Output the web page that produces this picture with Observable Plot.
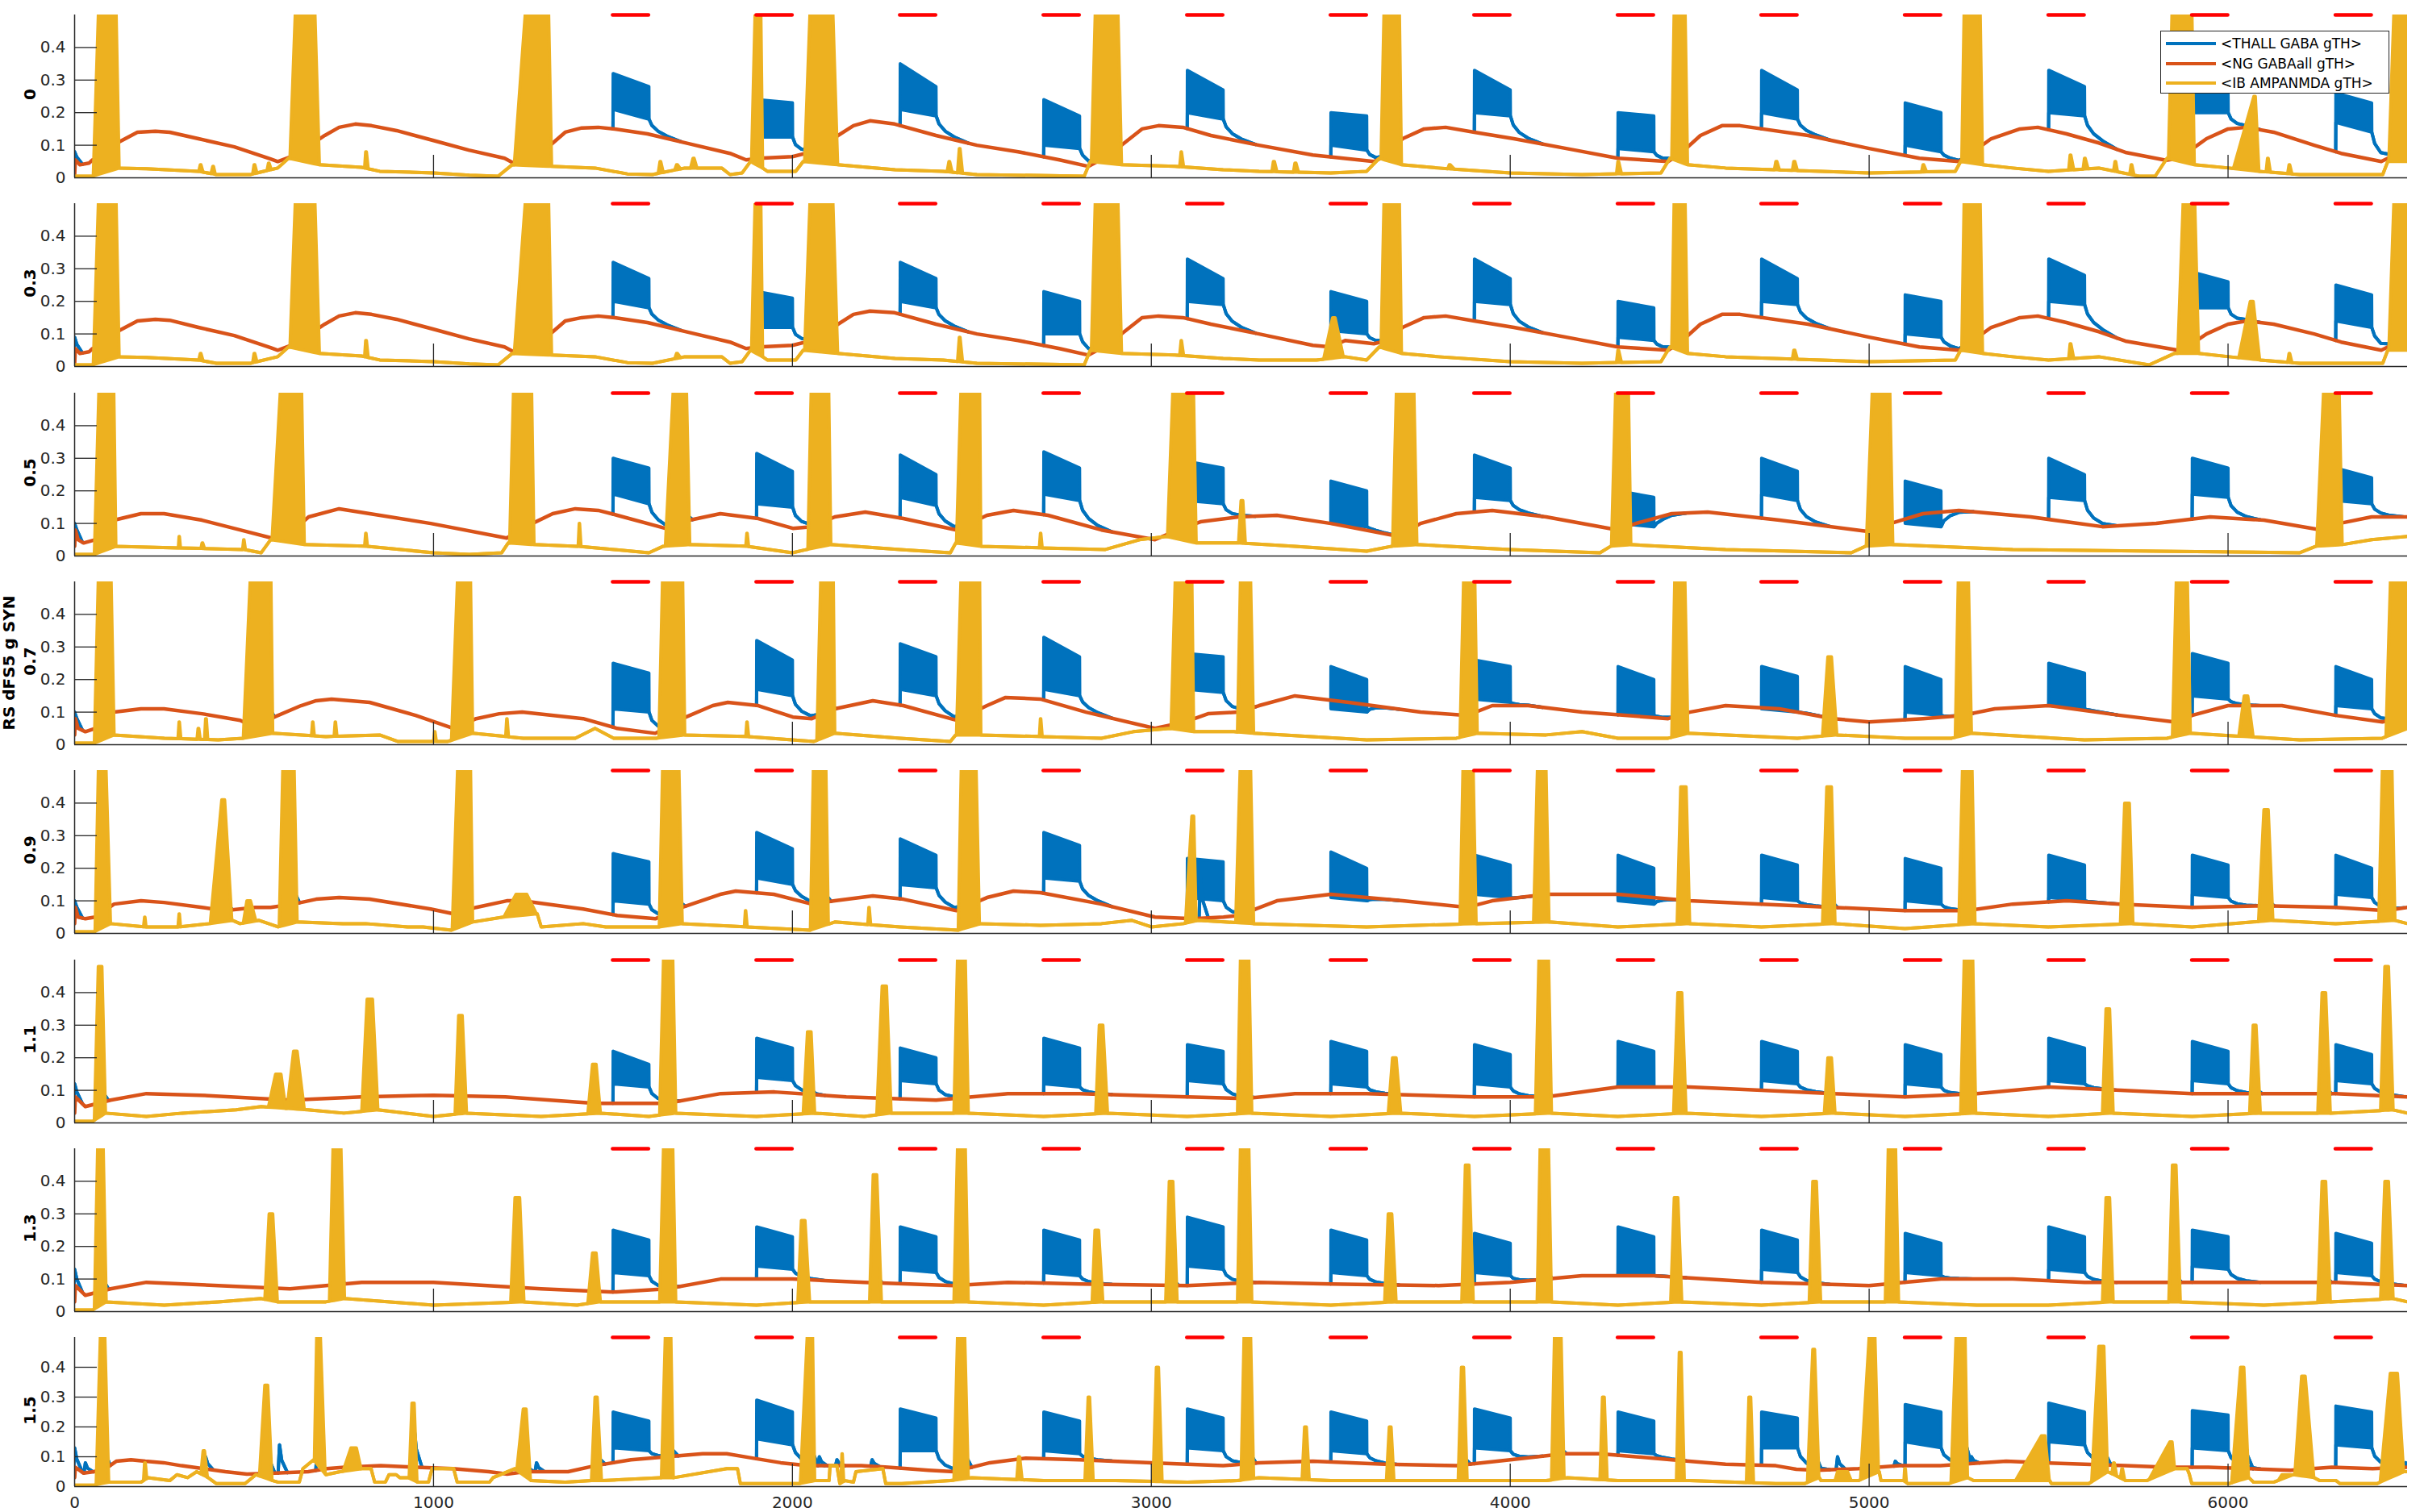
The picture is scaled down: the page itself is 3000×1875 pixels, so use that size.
<!DOCTYPE html>
<html><head><meta charset="utf-8">
<script src="https://cdn.jsdelivr.net/npm/d3@7"></script>
<script src="https://cdn.jsdelivr.net/npm/@observablehq/plot@0.6"></script>
<style>
html,body{margin:0;padding:0;background:#fff;}
#root{position:relative;width:3000px;height:1875px;overflow:hidden;font-family:"DejaVu Sans",sans-serif;}
.pnl{position:absolute;left:0;}
.lab{position:absolute;font-weight:bold;font-size:20px;color:#000;white-space:nowrap;transform:translate(-50%,-50%) rotate(-90deg);}
#legend{position:absolute;left:2678px;top:38px;width:284px;height:78px;border:1px solid #262626;background:#fff;box-sizing:border-box;z-index:5;}
.lrow{position:absolute;left:0;height:24px;width:284px;}
.lline{position:absolute;left:6px;top:10px;width:62px;height:4px;}
.ltxt{position:absolute;left:74px;top:0;font-size:17px;line-height:24px;color:#000;white-space:nowrap;}
</style></head>
<body><div id="root"></div>
<script>
// ---------- shared tables ----------
const seriesNames = ["<THALL GABA gTH>", "<NG GABAall gTH>", "<IB AMPANMDA gTH>"];
const seriesColors = ["#0072BD", "#D95319", "#EDB120"];
const panelLabels = ["0", "0.3", "0.5", "0.7", "0.9", "1.1", "1.3", "1.5"];
const yLabel = "RS dFS5 g SYN";
const stimStart = [1500,1900,2300,2700,3100,3500,3900,4300,4700,5100,5500,5900,6300];
const stimLen = 100;
const yTicks = [0, 0.1, 0.2, 0.3, 0.4];
const xTicks = [0, 1000, 2000, 3000, 4000, 5000, 6000];
const decayDt = [0, 8, 25, 50, 90];
const decayFrac = [1, 0.6, 0.3, 0.12, 0];

// ---------- panel 1 (0) ----------
const ng0 = [[0,0.01],[2,0.055],[15,0.04],[40,0.045],[50,0.055],[60,0.05],[90,0.08],[124,0.11],[175,0.14],[225,0.143],[265,0.14],[345,0.12],[445,0.095],[546,0.058],[566,0.05],[616,0.07],[656,0.10],[697,0.13],[737,0.155],[782,0.165],[827,0.16],[897,0.145],[998,0.115],[1098,0.085],[1198,0.06],[1223,0.045],[1299,0.075],[1367,0.14],[1413,0.153],[1459,0.155],[1505,0.15],[1596,0.135],[1711,0.105],[1826,0.075],[1871,0.055],[1907,0.06],[2000,0.065],[2055,0.08],[2113,0.12],[2170,0.16],[2216,0.175],[2285,0.165],[2400,0.13],[2514,0.1],[2629,0.08],[2744,0.055],[2825,0.035],[2858,0.055],[2917,0.1],[2974,0.15],[3020,0.16],[3088,0.155],[3166,0.13],[3300,0.1],[3450,0.07],[3620,0.05],[3660,0.07],[3700,0.12],[3760,0.15],[3820,0.155],[3900,0.14],[4010,0.12],[4180,0.085],[4300,0.06],[4440,0.05],[4480,0.08],[4530,0.13],[4590,0.16],[4640,0.16],[4830,0.13],[5000,0.09],[5140,0.06],[5250,0.05],[5290,0.08],[5340,0.12],[5420,0.15],[5470,0.155],[5550,0.135],[5640,0.107],[5714,0.078],[5827,0.054],[5865,0.06],[5902,0.09],[5940,0.12],[6000,0.15],[6052,0.155],[6127,0.14],[6240,0.1],[6315,0.075],[6427,0.05],[6464,0.07],[6500,0.09]];
const ibBase0 = [[0,0.005],[50,0.005],[124,0.03],[200,0.028],[345,0.02],[395,0.01],[490,0.01],[566,0.03],[596,0.06],[682,0.04],[800,0.032],[850,0.02],[1000,0.015],[1100,0.008],[1180,0.005],[1219,0.04],[1329,0.035],[1450,0.03],[1540,0.012],[1610,0.01],[1700,0.03],[1803,0.03],[1826,0.01],[1860,0.015],[1883,0.05],[1917,0.03],[1930,0.02],[2009,0.02],[2030,0.05],[2126,0.04],[2286,0.025],[2420,0.02],[2514,0.01],[2813,0.005],[2830,0.05],[2917,0.04],[3066,0.035],[3200,0.025],[3300,0.02],[3500,0.015],[3600,0.02],[3635,0.06],[3697,0.04],[3800,0.03],[4000,0.015],[4200,0.01],[4420,0.015],[4445,0.06],[4494,0.04],[4600,0.03],[5000,0.015],[5240,0.02],[5255,0.05],[5316,0.04],[5400,0.03],[5500,0.02],[5640,0.03],[5752,0.005],[5797,0.005],[5830,0.06],[5906,0.04],[6003,0.03],[6086,0.02],[6200,0.01],[6431,0.01],[6445,0.05],[6500,0.05]];
const ibBurst0 = [[52,69,114,124,0.6],[346,350,352,358,0.04],[380,385,387,392,0.035],[496,500,502,508,0.04],[536,540,542,548,0.045],[600,618,667,682,0.6],[808,811,813,818,0.08],[1225,1262,1319,1329,0.6],[1626,1631,1633,1640,0.05],[1672,1677,1680,1688,0.04],[1716,1723,1726,1734,0.06],[1886,1898,1911,1917,0.6],[2034,2052,2110,2126,0.6],[2431,2436,2438,2445,0.05],[2460,2465,2467,2474,0.09],[2833,2846,2905,2917,0.6],[3079,3083,3084,3090,0.08],[3336,3340,3343,3350,0.05],[3396,3400,3403,3410,0.045],[3640,3650,3690,3697,0.6],[3826,3830,3833,3844,0.04],[4296,4300,4302,4310,0.05],[4450,4458,4486,4494,0.6],[4736,4740,4743,4750,0.05],[4786,4790,4793,4800,0.05],[5146,5150,5152,5160,0.04],[5258,5266,5308,5316,0.6],[5556,5560,5562,5570,0.07],[5596,5600,5602,5610,0.06],[5681,5685,5687,5692,0.05],[5726,5730,5732,5738,0.04],[5834,5846,5898,5906,0.6],[6015,6072,6076,6086,0.25],[6106,6110,6112,6118,0.06],[6166,6170,6172,6178,0.04],[6448,6465,6500,6510,0.6]];
const th0 = [[0.32,0.28,0.21,0.18],[0.24,0.23,0.125,0.125],[0.35,0.28,0.21,0.19],[0.24,0.19,0.10,0.09],[0.33,0.27,0.2,0.18],[0.2,0.19,0.1,0.085],[0.33,0.27,0.2,0.19],[0.2,0.19,0.09,0.08],[0.33,0.27,0.2,0.18],[0.23,0.2,0.1,0.08],[0.33,0.28,0.2,0.19],[0.28,0.26,0.2,0.2],[0.26,0.23,0.17,0.14]];
const ths0 = [[0,0.08]];

// ---------- panel 2 (0.3) ----------
const ng1 = [[0,0.01],[2,0.055],[15,0.04],[40,0.045],[50,0.055],[60,0.05],[90,0.08],[124,0.11],[175,0.14],[225,0.145],[265,0.142],[345,0.12],[445,0.095],[546,0.058],[566,0.05],[616,0.07],[656,0.10],[697,0.13],[737,0.155],[782,0.165],[827,0.16],[897,0.145],[998,0.115],[1098,0.085],[1198,0.06],[1223,0.045],[1299,0.075],[1367,0.14],[1413,0.15],[1459,0.155],[1505,0.15],[1596,0.135],[1711,0.105],[1826,0.075],[1871,0.055],[1907,0.06],[2000,0.065],[2055,0.08],[2113,0.12],[2170,0.16],[2216,0.17],[2285,0.165],[2400,0.13],[2514,0.1],[2629,0.08],[2744,0.055],[2825,0.035],[2858,0.055],[2917,0.1],[2974,0.15],[3020,0.155],[3088,0.15],[3166,0.13],[3300,0.1],[3450,0.065],[3500,0.06],[3540,0.08],[3620,0.07],[3660,0.08],[3700,0.12],[3760,0.15],[3820,0.155],[3900,0.14],[4010,0.12],[4180,0.085],[4300,0.06],[4440,0.05],[4480,0.08],[4530,0.13],[4590,0.16],[4640,0.16],[4830,0.13],[5000,0.09],[5140,0.06],[5250,0.05],[5290,0.08],[5340,0.12],[5420,0.15],[5470,0.155],[5550,0.135],[5640,0.107],[5714,0.078],[5860,0.05],[5900,0.07],[5940,0.1],[6000,0.13],[6052,0.14],[6127,0.13],[6240,0.1],[6315,0.075],[6427,0.05],[6464,0.07],[6500,0.09]];
const ibBase1 = [[0,0.005],[50,0.005],[124,0.03],[200,0.028],[345,0.02],[395,0.01],[490,0.01],[566,0.03],[596,0.06],[682,0.04],[800,0.032],[850,0.02],[1000,0.015],[1100,0.008],[1180,0.005],[1219,0.04],[1329,0.035],[1450,0.03],[1540,0.012],[1610,0.01],[1700,0.03],[1803,0.03],[1826,0.01],[1860,0.015],[1883,0.05],[1917,0.03],[1930,0.02],[2009,0.02],[2030,0.05],[2126,0.04],[2286,0.025],[2420,0.02],[2514,0.01],[2813,0.005],[2830,0.05],[2917,0.04],[3066,0.035],[3200,0.025],[3300,0.02],[3460,0.02],[3540,0.03],[3600,0.02],[3635,0.06],[3697,0.04],[3800,0.03],[4000,0.015],[4200,0.01],[4420,0.015],[4445,0.06],[4494,0.04],[4600,0.03],[5000,0.015],[5240,0.02],[5255,0.05],[5316,0.04],[5400,0.03],[5500,0.02],[5640,0.03],[5780,0.005],[5850,0.04],[5918,0.04],[6003,0.03],[6090,0.02],[6200,0.01],[6431,0.01],[6445,0.05],[6500,0.05]];
const ibBurst1 = [[52,69,114,124,0.6],[346,350,352,358,0.04],[496,500,502,508,0.04],[600,618,667,682,0.6],[808,811,813,818,0.08],[1225,1262,1319,1329,0.6],[1672,1677,1680,1688,0.04],[1886,1898,1911,1917,0.6],[2034,2052,2110,2126,0.6],[2460,2465,2467,2474,0.09],[2833,2846,2905,2917,0.6],[3079,3083,3084,3090,0.08],[3480,3505,3512,3535,0.15],[3640,3650,3690,3697,0.6],[4296,4300,4302,4310,0.05],[4450,4458,4486,4494,0.6],[4786,4790,4793,4800,0.05],[5258,5266,5308,5316,0.6],[5556,5560,5562,5570,0.07],[5860,5878,5905,5918,0.6],[6030,6062,6070,6088,0.2],[6166,6170,6172,6178,0.04],[6448,6465,6500,6510,0.6]];
const th1 = [[0.32,0.27,0.2,0.18],[0.23,0.21,0.12,0.12],[0.32,0.27,0.2,0.18],[0.23,0.2,0.1,0.1],[0.33,0.27,0.2,0.19],[0.23,0.2,0.11,0.1],[0.33,0.27,0.2,0.19],[0.2,0.18,0.09,0.08],[0.33,0.27,0.2,0.19],[0.22,0.2,0.1,0.09],[0.33,0.28,0.2,0.19],[0.29,0.26,0.18,0.18],[0.25,0.22,0.14,0.12]];
const ths1 = [[0,0.09]];

// ---------- panel 3 (0.5) ----------
const ng2 = [[0,0.03],[2,0.08],[10,0.05],[25,0.04],[57,0.05],[79,0.09],[110,0.11],[185,0.13],[249,0.13],[355,0.11],[461,0.08],[567,0.05],[610,0.08],[652,0.12],[737,0.145],[822,0.13],[992,0.1],[1204,0.055],[1257,0.09],[1332,0.13],[1395,0.145],[1459,0.14],[1512,0.125],[1629,0.09],[1661,0.08],[1714,0.11],[1799,0.13],[1905,0.115],[2001,0.085],[2054,0.09],[2118,0.12],[2203,0.135],[2309,0.115],[2457,0.08],[2542,0.125],[2616,0.14],[2712,0.125],[2861,0.08],[3010,0.05],[3074,0.08],[3137,0.105],[3243,0.12],[3350,0.125],[3500,0.1],[3690,0.06],[3750,0.1],[3850,0.13],[3950,0.14],[4100,0.12],[4300,0.08],[4350,0.1],[4450,0.13],[4550,0.135],[4750,0.11],[5000,0.075],[5060,0.1],[5150,0.13],[5250,0.14],[5450,0.12],[5650,0.09],[5800,0.1],[5950,0.12],[6100,0.11],[6260,0.08],[6310,0.1],[6400,0.12],[6500,0.12]];
const ibBase2 = [[0,0.005],[55,0.005],[115,0.03],[291,0.025],[471,0.02],[520,0.01],[546,0.05],[640,0.035],[811,0.03],[1000,0.01],[1100,0.005],[1190,0.01],[1208,0.04],[1280,0.035],[1400,0.03],[1600,0.01],[1640,0.03],[1714,0.035],[1873,0.03],[2000,0.01],[2040,0.02],[2107,0.035],[2300,0.02],[2440,0.01],[2455,0.04],[2525,0.03],[2691,0.025],[2872,0.02],[2967,0.05],[3042,0.06],[3125,0.04],[3243,0.04],[3400,0.03],[3600,0.015],[3670,0.03],[3740,0.035],[4000,0.02],[4250,0.01],[4280,0.03],[4336,0.035],[4600,0.02],[4950,0.01],[4990,0.03],[5066,0.035],[5400,0.02],[5800,0.015],[6200,0.01],[6245,0.03],[6318,0.035],[6400,0.05],[6500,0.06]];
const ibBurst2 = [[55,70,108,115,0.6],[289,291,292,295,0.06],[352,355,357,362,0.04],[468,471,472,476,0.05],[550,578,631,640,0.6],[808,811,812,816,0.07],[1212,1225,1272,1280,0.6],[1403,1406,1407,1411,0.1],[1646,1672,1703,1714,0.6],[1870,1873,1874,1878,0.07],[2043,2054,2100,2107,0.6],[2457,2472,2521,2525,0.6],[2688,2691,2692,2696,0.07],[3045,3063,3116,3125,0.6],[3243,3250,3255,3262,0.17],[3672,3685,3730,3740,0.6],[4282,4296,4328,4336,0.6],[4992,5012,5056,5066,0.6],[6247,6270,6308,6318,0.6]];
const th2 = [[0.3,0.27,0.19,0.16],[0.315,0.26,0.16,0.15],[0.31,0.25,0.18,0.155],[0.32,0.27,0.19,0.17],[0.29,0.27,0.17,0.16],[0.23,0.2,0.1,0.09],[0.31,0.27,0.18,0.17],[0.2,0.18,0.1,0.09],[0.3,0.26,0.19,0.17],[0.23,0.2,0.1,0.09],[0.3,0.25,0.18,0.17],[0.3,0.27,0.19,0.18],[0.27,0.24,0.17,0.16]];
const ths2 = [[0,0.1],[609,0.13],[1257,0.11],[1700,0.15],[2081,0.13],[2500,0.13],[3084,0.13]];

// ---------- panel 4 (0.7) ----------
const ng3 = [[0,0.03],[2,0.08],[10,0.05],[30,0.04],[57,0.05],[110,0.1],[185,0.11],[249,0.11],[355,0.095],[461,0.075],[490,0.06],[546,0.08],[631,0.12],[673,0.135],[716,0.14],[822,0.13],[950,0.09],[1056,0.05],[1119,0.08],[1183,0.095],[1247,0.1],[1417,0.08],[1512,0.05],[1618,0.035],[1693,0.08],[1778,0.12],[1820,0.13],[1905,0.12],[2001,0.085],[2054,0.08],[2118,0.11],[2224,0.135],[2309,0.12],[2457,0.075],[2542,0.12],[2594,0.145],[2691,0.14],[2818,0.1],[3010,0.05],[3095,0.07],[3158,0.095],[3243,0.1],[3300,0.12],[3400,0.15],[3550,0.13],[3750,0.1],[3880,0.09],[3950,0.12],[4050,0.12],[4200,0.1],[4440,0.08],[4500,0.1],[4600,0.12],[4750,0.11],[4900,0.08],[5000,0.07],[5150,0.08],[5260,0.09],[5350,0.11],[5500,0.12],[5700,0.09],[5850,0.07],[5900,0.09],[6000,0.12],[6150,0.12],[6300,0.09],[6430,0.07],[6470,0.08],[6500,0.1]];
const ibBase3 = [[0,0.005],[55,0.005],[110,0.03],[250,0.02],[400,0.015],[470,0.02],[552,0.035],[700,0.025],[850,0.03],[900,0.01],[1040,0.01],[1109,0.035],[1250,0.02],[1395,0.02],[1450,0.05],[1502,0.02],[1620,0.02],[1700,0.03],[1873,0.025],[2060,0.01],[2118,0.035],[2300,0.02],[2440,0.01],[2455,0.03],[2525,0.03],[2691,0.025],[2861,0.02],[2950,0.04],[3052,0.05],[3118,0.04],[3230,0.04],[3285,0.035],[3600,0.015],[3850,0.02],[3908,0.035],[4100,0.03],[4200,0.04],[4300,0.02],[4440,0.02],[4495,0.035],[4800,0.02],[4910,0.03],[5100,0.02],[5230,0.02],[5285,0.035],[5600,0.015],[5830,0.02],[5895,0.035],[6200,0.015],[6430,0.02],[6500,0.05]];
const ibBurst3 = [[55,68,100,110,0.6],[288,291,292,296,0.07],[341,344,346,350,0.05],[362,365,367,371,0.08],[470,493,546,552,0.6],[660,663,664,668,0.07],[723,726,727,731,0.07],[1000,1003,1004,1008,0.04],[1050,1070,1102,1109,0.6],[1201,1204,1205,1209,0.08],[1628,1640,1693,1700,0.6],[1870,1873,1874,1878,0.07],[2068,2081,2113,2118,0.6],[2457,2472,2521,2525,0.6],[2688,2691,2692,2696,0.08],[3055,3069,3112,3118,0.6],[3240,3250,3275,3285,0.6],[3860,3872,3900,3908,0.6],[4450,4460,4485,4495,0.6],[4870,4885,4895,4910,0.27],[5240,5250,5275,5285,0.6],[5845,5858,5885,5895,0.6],[6030,6045,6055,6070,0.15],[6440,6455,6500,6510,0.6]];
const th3 = [[0.25,0.22,0.11,0.1],[0.32,0.26,0.17,0.15],[0.31,0.27,0.17,0.15],[0.33,0.27,0.17,0.15],[0.28,0.27,0.17,0.16],[0.24,0.2,0.11,0.1],[0.26,0.24,0.14,0.13],[0.24,0.2,0.1,0.09],[0.24,0.21,0.11,0.1],[0.24,0.2,0.1,0.09],[0.25,0.22,0.12,0.11],[0.28,0.25,0.15,0.14],[0.24,0.2,0.12,0.11]];
const ths3 = [[0,0.1],[83,0.14],[535,0.16],[1081,0.14],[1650,0.14],[1678,0.14],[2100,0.13],[2500,0.13],[3084,0.13],[3260,0.12],[3880,0.12],[4465,0.12],[5256,0.12],[5867,0.13],[6460,0.12]];

// ---------- panel 5 (0.9) ----------
const ng4 = [[0,0.03],[2,0.08],[10,0.05],[30,0.045],[57,0.05],[110,0.09],[185,0.1],[249,0.095],[355,0.08],[418,0.07],[503,0.08],[546,0.08],[610,0.09],[673,0.105],[737,0.11],[822,0.105],[992,0.075],[1056,0.06],[1119,0.08],[1204,0.1],[1247,0.1],[1417,0.075],[1512,0.055],[1618,0.045],[1693,0.08],[1799,0.12],[1842,0.13],[1948,0.12],[2054,0.09],[2118,0.1],[2224,0.115],[2309,0.105],[2457,0.07],[2542,0.11],[2616,0.13],[2691,0.125],[2861,0.09],[3010,0.05],[3116,0.045],[3201,0.05],[3243,0.055],[3350,0.1],[3500,0.12],[3700,0.1],[3880,0.08],[3950,0.1],[4100,0.12],[4300,0.12],[4500,0.1],[4700,0.09],[4900,0.08],[5100,0.07],[5273,0.07],[5400,0.09],[5550,0.1],[5700,0.09],[5900,0.08],[6100,0.085],[6300,0.08],[6440,0.07],[6500,0.08]];
const ibBase4 = [[0,0.005],[55,0.005],[100,0.03],[195,0.02],[291,0.02],[376,0.03],[440,0.04],[461,0.03],[514,0.04],[567,0.02],[620,0.035],[748,0.03],[811,0.03],[928,0.02],[971,0.02],[1050,0.01],[1109,0.035],[1194,0.05],[1289,0.06],[1300,0.02],[1417,0.03],[1480,0.02],[1629,0.02],[1693,0.03],[1869,0.02],[2050,0.01],[2118,0.035],[2300,0.02],[2462,0.01],[2525,0.03],[2691,0.025],[2861,0.03],[2946,0.04],[3000,0.02],[3090,0.03],[3130,0.04],[3285,0.03],[3600,0.02],[3905,0.03],[4108,0.035],[4300,0.02],[4500,0.03],[4700,0.02],[4905,0.03],[5100,0.015],[5295,0.03],[5500,0.02],[5735,0.03],[5900,0.02],[6125,0.04],[6300,0.03],[6465,0.04],[6500,0.03]];
const ibBurst4 = [[57,68,85,100,0.6],[192,195,196,199,0.05],[288,291,292,295,0.06],[378,410,418,438,0.41],[470,480,490,505,0.1],[570,582,610,620,0.6],[1052,1070,1102,1109,0.6],[1196,1230,1260,1287,0.12],[1629,1640,1682,1693,0.6],[1866,1869,1870,1874,0.07],[2050,2060,2092,2100,0.6],[2210,2213,2214,2218,0.08],[2462,2472,2510,2521,0.6],[3095,3113,3118,3125,0.36],[3235,3250,3275,3285,0.6],[3860,3870,3895,3905,0.6],[4065,4078,4098,4108,0.6],[4465,4475,4490,4500,0.45],[4870,4882,4895,4905,0.45],[5250,5262,5285,5295,0.6],[5700,5712,5725,5735,0.4],[6085,6100,6112,6125,0.38],[6420,6432,6455,6465,0.6]];
const th4 = [[0.245,0.22,0.1,0.09],[0.31,0.26,0.17,0.15],[0.29,0.24,0.15,0.14],[0.31,0.27,0.17,0.16],[0.23,0.22,0.11,0.1],[0.25,0.2,0.11,0.1],[0.24,0.21,0.12,0.11],[0.24,0.2,0.1,0.09],[0.24,0.21,0.11,0.1],[0.23,0.2,0.1,0.09],[0.24,0.21,0.11,0.1],[0.24,0.21,0.12,0.11],[0.24,0.2,0.12,0.11]];
const ths4 = [[0,0.1],[79,0.17],[418,0.12],[605,0.18],[1077,0.17],[1650,0.13],[1680,0.12],[2086,0.15],[2496,0.14],[3137,0.17],[3260,0.15],[3880,0.15],[4086,0.13],[4890,0.12],[5273,0.14],[6107,0.12],[6440,0.14]];

// ---------- panel 6 (1.1) ----------
const ng5 = [[0,0.03],[2,0.08],[30,0.05],[100,0.07],[200,0.09],[350,0.085],[600,0.07],[800,0.08],[1000,0.085],[1200,0.08],[1450,0.06],[1650,0.06],[1800,0.09],[1950,0.095],[2150,0.08],[2400,0.07],[2600,0.09],[2800,0.09],[3100,0.08],[3260,0.075],[3400,0.09],[3600,0.09],[3900,0.08],[4100,0.08],[4300,0.11],[4500,0.11],[4700,0.1],[4900,0.09],[5100,0.08],[5300,0.09],[5500,0.11],[5700,0.1],[5900,0.09],[6100,0.09],[6300,0.09],[6500,0.08]];
const ibBase5 = [[0,0.005],[50,0.005],[86,0.03],[200,0.02],[300,0.03],[450,0.04],[520,0.05],[650,0.04],[750,0.03],[845,0.04],[1000,0.02],[1092,0.03],[1300,0.02],[1465,0.03],[1600,0.02],[1675,0.03],[1900,0.02],[2062,0.03],[2200,0.02],[2275,0.03],[2490,0.03],[2700,0.02],[2878,0.03],[3100,0.02],[3280,0.03],[3500,0.02],[3695,0.03],[3900,0.02],[4115,0.03],[4300,0.02],[4490,0.03],[4700,0.02],[4905,0.03],[5100,0.02],[5297,0.03],[5500,0.02],[5680,0.03],[5900,0.02],[6090,0.03],[6285,0.03],[6460,0.04],[6500,0.03]];
const ibBurst5 = [[55,66,76,86,0.48],[540,560,575,588,0.15],[592,610,620,640,0.22],[800,815,830,845,0.38],[1060,1070,1080,1092,0.33],[1430,1443,1453,1465,0.18],[1630,1643,1665,1675,0.6],[2030,2042,2052,2062,0.28],[2235,2250,2262,2275,0.42],[2450,2462,2480,2490,0.6],[2845,2855,2865,2878,0.3],[3240,3250,3270,3280,0.6],[3660,3672,3682,3695,0.2],[4070,4082,4105,4115,0.6],[4455,4467,4478,4490,0.4],[4875,4885,4895,4905,0.2],[5255,5267,5287,5297,0.6],[5650,5660,5670,5680,0.35],[6060,6070,6078,6090,0.3],[6250,6262,6272,6285,0.4],[6425,6437,6447,6460,0.48]];
const th5 = [[0.22,0.18,0.12,0.11],[0.26,0.23,0.14,0.13],[0.23,0.2,0.13,0.12],[0.26,0.23,0.12,0.11],[0.24,0.22,0.13,0.12],[0.25,0.22,0.12,0.11],[0.24,0.21,0.12,0.11],[0.25,0.22,0.12,0.11],[0.25,0.22,0.13,0.12],[0.24,0.21,0.12,0.11],[0.26,0.23,0.13,0.12],[0.25,0.22,0.13,0.12],[0.24,0.21,0.13,0.12]];
const ths5 = [[0,0.12],[73,0.13],[1652,0.15],[2047,0.12],[2469,0.14],[3260,0.14],[4095,0.14],[4473,0.12],[5277,0.13],[6073,0.12],[6267,0.12],[6440,0.13]];

// ---------- panel 7 (1.3) ----------
const ng6 = [[0,0.03],[2,0.08],[30,0.05],[100,0.07],[200,0.09],[400,0.08],[600,0.07],[800,0.09],[1000,0.09],[1300,0.07],[1500,0.06],[1650,0.07],[1800,0.1],[2000,0.1],[2200,0.09],[2450,0.08],[2600,0.09],[2800,0.085],[3100,0.08],[3300,0.09],[3500,0.085],[3800,0.08],[4000,0.09],[4200,0.11],[4400,0.11],[4700,0.09],[5000,0.08],[5200,0.1],[5400,0.1],[5600,0.09],[5800,0.09],[6000,0.09],[6300,0.09],[6500,0.08]];
const ibBase6 = [[0,0.005],[50,0.005],[88,0.03],[250,0.02],[400,0.03],[520,0.04],[565,0.03],[700,0.03],[752,0.04],[1000,0.02],[1252,0.03],[1400,0.02],[1465,0.03],[1675,0.03],[1900,0.02],[2048,0.03],[2248,0.03],[2490,0.03],[2700,0.02],[2865,0.03],[3072,0.03],[3280,0.03],[3500,0.02],[3682,0.03],[3897,0.03],[4115,0.03],[4300,0.02],[4478,0.03],[4700,0.02],[4865,0.03],[5082,0.03],[5300,0.02],[5500,0.02],[5680,0.03],[5867,0.03],[6100,0.02],[6285,0.03],[6460,0.04],[6500,0.03]];
const ibBurst6 = [[55,66,78,88,0.6],[530,542,552,565,0.3],[710,722,740,752,0.6],[1215,1227,1240,1252,0.35],[1430,1443,1453,1465,0.18],[1630,1643,1665,1675,0.6],[2015,2025,2035,2048,0.28],[2215,2225,2235,2248,0.42],[2450,2462,2480,2490,0.6],[2835,2843,2853,2865,0.25],[3040,3050,3060,3072,0.4],[3240,3250,3270,3280,0.6],[3650,3660,3670,3682,0.3],[3865,3875,3885,3897,0.45],[4075,4085,4105,4115,0.6],[4447,4457,4467,4478,0.35],[4833,4843,4853,4865,0.4],[5045,5055,5072,5082,0.6],[5650,5660,5670,5680,0.35],[5835,5845,5855,5867,0.45],[6250,6262,6272,6285,0.4],[6425,6437,6447,6460,0.4]];
const th6 = [[0.25,0.22,0.12,0.11],[0.26,0.23,0.14,0.13],[0.26,0.23,0.13,0.12],[0.25,0.22,0.12,0.11],[0.29,0.26,0.14,0.13],[0.25,0.22,0.12,0.11],[0.24,0.21,0.12,0.11],[0.26,0.23,0.12,0.11],[0.25,0.22,0.13,0.12],[0.24,0.21,0.12,0.11],[0.26,0.23,0.13,0.12],[0.25,0.23,0.14,0.13],[0.24,0.21,0.12,0.11]];
const ths6 = [[0,0.13],[73,0.14],[731,0.15],[1652,0.16],[2228,0.14],[2469,0.15],[3054,0.12],[3260,0.15],[3880,0.13],[4095,0.15],[5062,0.15],[5849,0.13],[6267,0.12],[6440,0.13]];

// ---------- panel 8 (1.5) ----------
const ng7 = [[0,0.03],[2,0.065],[25,0.045],[54,0.05],[86,0.06],[116,0.085],[157,0.09],[197,0.085],[248,0.08],[298,0.07],[359,0.06],[420,0.05],[480,0.042],[560,0.045],[651,0.05],[702,0.06],[752,0.065],[853,0.07],[953,0.065],[1054,0.06],[1154,0.05],[1205,0.042],[1255,0.05],[1375,0.05],[1450,0.07],[1550,0.09],[1650,0.1],[1750,0.11],[1817,0.11],[1892,0.095],[1967,0.08],[2042,0.07],[2117,0.07],[2192,0.07],[2267,0.065],[2379,0.055],[2450,0.05],[2550,0.08],[2650,0.095],[2800,0.09],[3000,0.08],[3200,0.07],[3300,0.08],[3450,0.085],[3650,0.075],[3850,0.07],[4000,0.09],[4150,0.11],[4250,0.11],[4450,0.09],[4600,0.075],[4740,0.07],[4797,0.058],[4855,0.055],[4970,0.06],[5085,0.07],[5199,0.07],[5314,0.08],[5382,0.085],[5486,0.08],[5600,0.075],[5715,0.07],[5830,0.065],[5945,0.065],[6059,0.06],[6174,0.055],[6289,0.065],[6403,0.06],[6500,0.065]];
const ibBase7 = [[0,0.005],[54,0.005],[95,0.015],[185,0.015],[205,0.03],[265,0.02],[285,0.04],[315,0.03],[340,0.05],[372,0.03],[395,0.01],[475,0.01],[505,0.04],[552,0.02],[566,0.015],[626,0.015],[636,0.06],[666,0.09],[700,0.04],[740,0.05],[800,0.06],[826,0.06],[836,0.015],[866,0.015],[876,0.04],[896,0.04],[906,0.03],[930,0.03],[955,0.015],[986,0.015],[996,0.06],[1056,0.06],[1066,0.015],[1156,0.015],[1166,0.03],[1226,0.06],[1272,0.02],[1367,0.015],[1440,0.02],[1470,0.02],[1630,0.03],[1670,0.03],[1817,0.06],[1847,0.06],[1855,0.01],[2019,0.01],[2062,0.02],[2102,0.02],[2105,0.07],[2124,0.07],[2132,0.01],[2147,0.02],[2170,0.015],[2177,0.05],[2252,0.06],[2260,0.01],[2305,0.01],[2440,0.02],[2500,0.03],[2700,0.02],[2900,0.02],[3100,0.015],[3240,0.02],[3300,0.03],[3500,0.02],[3700,0.02],[3900,0.02],[4100,0.02],[4160,0.03],[4300,0.02],[4500,0.02],[4740,0.01],[4820,0.01],[4861,0.03],[4866,0.02],[4901,0.02],[4950,0.02],[4970,0.02],[5028,0.05],[5033,0.02],[5096,0.02],[5108,0.01],[5222,0.01],[5275,0.03],[5291,0.02],[5405,0.02],[5503,0.02],[5508,0.01],[5612,0.01],[5665,0.05],[5715,0.02],[5773,0.02],[5852,0.06],[5888,0.06],[5899,0.01],[6002,0.01],[6058,0.03],[6071,0.015],[6128,0.015],[6182,0.04],[6240,0.03],[6255,0.02],[6301,0.02],[6312,0.01],[6415,0.01],[6490,0.05],[6500,0.05]];
const ibBurst7 = [[60,74,82,95,0.6],[192,195,197,201,0.08],[352,358,362,370,0.12],[515,530,538,550,0.34],[668,676,682,698,0.6],[748,770,785,798,0.13],[932,940,946,954,0.28],[1232,1250,1258,1270,0.26],[1440,1450,1456,1468,0.3],[1635,1648,1660,1668,0.6],[2022,2045,2055,2062,0.6],[2135,2138,2139,2143,0.11],[2450,2462,2478,2490,0.6],[2625,2630,2633,2640,0.1],[2815,2824,2828,2838,0.3],[3005,3014,3020,3030,0.4],[3250,3260,3275,3285,0.6],[3420,3427,3432,3440,0.2],[3655,3663,3668,3676,0.2],[3855,3864,3870,3880,0.4],[4115,4125,4140,4150,0.6],[4250,4257,4262,4270,0.3],[4463,4471,4476,4485,0.45],[4658,4665,4670,4678,0.3],[4828,4843,4848,4860,0.46],[4905,4912,4940,4950,0.05],[4976,5005,5014,5026,0.6],[5097,5099,5101,5104,0.06],[5228,5245,5266,5274,0.6],[5408,5480,5490,5502,0.17],[5620,5640,5654,5664,0.47],[5676,5681,5683,5690,0.08],[5700,5704,5706,5712,0.06],[5780,5838,5844,5851,0.15],[5874,5880,5886,5892,0.06],[6010,6035,6044,6057,0.4],[6140,6150,6175,6181,0.04],[6186,6205,6215,6239,0.37],[6424,6452,6472,6489,0.38]];
const th7 = [[0.25,0.22,0.13,0.12],[0.29,0.25,0.16,0.14],[0.26,0.23,0.12,0.12],[0.25,0.22,0.12,0.11],[0.26,0.23,0.13,0.12],[0.25,0.22,0.12,0.11],[0.26,0.23,0.13,0.12],[0.25,0.22,0.12,0.11],[0.25,0.23,0.13,0.13],[0.275,0.25,0.15,0.13],[0.28,0.25,0.15,0.14],[0.255,0.24,0.13,0.12],[0.27,0.25,0.14,0.13]];
const ths7 = [[0,0.13],[30,0.08],[77,0.2],[365,0.1],[536,0.15],[571,0.14],[676,0.13],[946,0.2],[1257,0.08],[1287,0.08],[1456,0.12],[1660,0.15],[2049,0.185],[2075,0.1],[2124,0.09],[2222,0.09],[2478,0.15],[3270,0.15],[3868,0.12],[4135,0.15],[4846,0.16],[4912,0.1],[5004,0.18],[5073,0.085],[5262,0.24],[5285,0.1],[5652,0.16],[6048,0.16],[6455,0.13],[6495,0.08]];

// ---------- layout ----------
const panelTop = [18, 252, 487, 721, 955, 1190, 1424, 1658];
const panelBottom = [220, 454, 689, 923, 1157, 1392, 1626, 1843];
const plotLeft = 92, plotRight = 2984;

const NG = [ng0, ng1, ng2, ng3, ng4, ng5, ng6, ng7];
const IBB = [ibBase0, ibBase1, ibBase2, ibBase3, ibBase4, ibBase5, ibBase6, ibBase7];
const IBU = [ibBurst0, ibBurst1, ibBurst2, ibBurst3, ibBurst4, ibBurst5, ibBurst6, ibBurst7];
const TH = [th0, th1, th2, th3, th4, th5, th6, th7];
const THS = [ths0, ths1, ths2, ths3, ths4, ths5, ths6, ths7];

function interp(arr, t) {
  if (t <= arr[0][0]) return arr[0][1];
  for (let i = 1; i < arr.length; i++) {
    if (t <= arr[i][0]) {
      const [ta, va] = arr[i - 1], [tb, vb] = arr[i];
      return tb === ta ? vb : va + (vb - va) * (t - ta) / (tb - ta);
    }
  }
  return arr[arr.length - 1][1];
}

function yellowRows(base, bursts) {
  const inB = t => bursts.some(b => t >= b[0] && t <= b[3]);
  const rows = base.filter(d => !inB(d[0])).map(d => ({t: d[0], lo: d[1], hi: d[1]}));
  for (const b of bursts) {
    const [t0, t1, t2, t3, p] = b;
    rows.push({t: t0, lo: interp(base, t0), hi: interp(base, t0)});
    rows.push({t: t1, lo: interp(base, t1), hi: p});
    rows.push({t: t2, lo: interp(base, t2), hi: p});
    rows.push({t: t3, lo: interp(base, t3), hi: interp(base, t3)});
  }
  rows.sort((a, b) => a.t - b.t);
  return rows;
}

function blueRows(ng, bands, spikes) {
  const rows = [];
  bands.forEach((b, i) => {
    const s = stimStart[i], e = s + stimLen, z = "b" + i;
    const b0 = interp(ng, s);
    rows.push({t: s, lo: b0, hi: b0, z});
    rows.push({t: s + 0.5, lo: b[2], hi: b[0], z});
    rows.push({t: e, lo: b[3], hi: b[1], z});
    decayDt.forEach((dt, j) => {
      const base = interp(ng, e + dt);
      const v = base + (b[3] - base) * decayFrac[j];
      rows.push({t: e + dt + 0.5, lo: v, hi: v, z});
    });
  });
  const sdt = [-4, 0, 6, 22], sfr = [0, 1, 0.45, 0];
  spikes.forEach((sp, i) => {
    const z = "s" + i;
    sdt.forEach((dt, j) => {
      const base = interp(ng, sp[0] + dt);
      const v = base + (sp[1] - base) * sfr[j];
      rows.push({t: sp[0] + dt, lo: v, hi: v, z});
    });
  });
  return rows;
}

const root = document.getElementById("root");
const SW = 4;

for (let k = 0; k < 8; k++) {
  const top = panelTop[k], bot = panelBottom[k];
  const mt = 10, mb = (k === 7) ? 40 : 16;
  const h = bot - top + mt + mb;
  const ph = bot - top;
  const ng = NG[k];
  const yRows = yellowRows(IBB[k], IBU[k]);
  const bRows = blueRows(ng, TH[k], THS[k]);
  const tickLenX = 28 * 6500 / (plotRight - plotLeft);
  const tickLenY = 28 * 0.5 / ph;
  const stims = stimStart.map(s => ({s, e: s + stimLen}));
  const marks = [
    Plot.areaY(bRows, {x: "t", y1: "lo", y2: "hi", z: "z", fill: seriesColors[0], clip: true}),
    Plot.line(bRows, {x: "t", y: "hi", z: "z", stroke: seriesColors[0], strokeWidth: SW, clip: true}),
    Plot.line(bRows, {x: "t", y: "lo", z: "z", stroke: seriesColors[0], strokeWidth: SW, clip: true}),
    Plot.line(ng, {x: d => d[0], y: d => d[1], stroke: seriesColors[1], strokeWidth: SW + 0.5, clip: true}),
    Plot.areaY(yRows, {x: "t", y1: "lo", y2: "hi", fill: seriesColors[2], clip: true}),
    Plot.line(yRows, {x: "t", y: "lo", stroke: seriesColors[2], strokeWidth: SW, clip: true}),
    Plot.line(yRows, {x: "t", y: "hi", stroke: seriesColors[2], strokeWidth: SW, clip: true}),
    Plot.ruleY(yTicks.slice(1), {y: d => d, x1: 0, x2: tickLenX, stroke: "#262626", strokeWidth: 1.3}),
    Plot.ruleX(xTicks.slice(1), {x: d => d, y1: 0, y2: tickLenY, stroke: "#262626", strokeWidth: 1.3}),
    Plot.ruleX([0], {y1: 0, y2: 0.5, stroke: "#262626", strokeWidth: 1.5}),
    Plot.ruleY([0], {x1: 0, x2: 6500, stroke: "#262626", strokeWidth: 1.5}),
    Plot.axisY(yTicks, {tickSize: 0, tickPadding: 11, fontSize: 20, tickFormat: d => String(d), label: null, fill: "#262626"}),
    Plot.ruleY(stims, {x1: "s", x2: "e", y: 0.5, stroke: "#ff0000", strokeWidth: 4.5, strokeLinecap: "round"})
  ];
  if (k === 7) {
    marks.push(Plot.axisX(xTicks, {tickSize: 0, tickPadding: 12, fontSize: 20, tickFormat: d => String(d), label: null, fill: "#262626"}));
  }
  const svg = Plot.plot({
    width: 3000, height: h,
    marginLeft: plotLeft, marginRight: 3000 - plotRight, marginTop: mt, marginBottom: mb,
    x: k === 7 ? {domain: [0, 6500]} : {domain: [0, 6500], axis: null},
    y: {domain: [0, 0.5]},
    style: {fontFamily: "DejaVu Sans", fontSize: "20px", color: "#262626", background: "transparent"},
    marks
  });
  svg.classList.add("pnl");
  svg.style.top = (top - mt) + "px";
  root.appendChild(svg);

  const lab = document.createElement("div");
  lab.className = "lab";
  lab.textContent = panelLabels[k];
  lab.style.left = "37px";
  lab.style.top = ((top + bot) / 2 - 2) + "px";
  root.appendChild(lab);
  if (k === 3) {
    const yl = document.createElement("div");
    yl.className = "lab";
    yl.textContent = yLabel;
    yl.style.left = "11px";
    yl.style.top = ((top + bot) / 2) + "px";
    root.appendChild(yl);
  }
}

// legend
const leg = document.createElement("div");
leg.id = "legend";
seriesNames.forEach((n, i) => {
  const r = document.createElement("div");
  r.className = "lrow";
  r.style.top = (3 + i * 24.5) + "px";
  const l = document.createElement("div");
  l.className = "lline";
  l.style.background = seriesColors[i];
  const tx = document.createElement("div");
  tx.className = "ltxt";
  tx.textContent = n;
  r.appendChild(l); r.appendChild(tx);
  leg.appendChild(r);
});
root.appendChild(leg);
</script>
</body></html>
